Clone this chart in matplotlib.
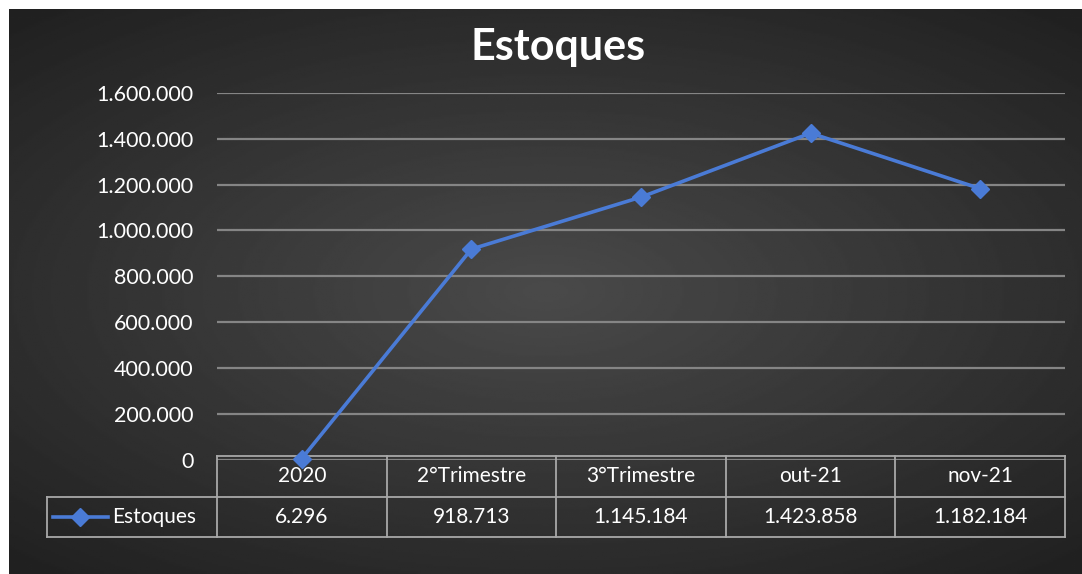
import matplotlib.pyplot as plt
import matplotlib.transforms as mtransforms
import numpy as np

categorias = ['2020', '2°Trimestre', '3°Trimestre', 'out-21', 'nov-21']
estoques = [6296, 918713, 1145184, 1423858, 1182184]
yticks = [0, 200000, 400000, 600000, 800000, 1000000, 1200000, 1400000, 1600000]

W, H = 1082, 574
plt.rcParams['font.family'] = ['Lato', 'DejaVu Sans']


def br(v):
    return f'{v:,.0f}'.replace(',', '.')


fig = plt.figure(figsize=(W / 100, H / 100), dpi=100, facecolor='white')

# fundo escuro com gradiente radial
bg = fig.add_axes([9 / W, 0, (W - 9) / W, (H - 9) / H])
yy, xx = np.mgrid[-1:1:300j, -1:1:500j]
r = np.sqrt((xx * 0.9) ** 2 + (yy * 1.0) ** 2)
bg.imshow(0.29 - 0.16 * np.clip(r, 0, 1.3) / 1.3, cmap='gray', vmin=0, vmax=1,
          aspect='auto', extent=[0, 1, 0, 1])
bg.axis('off')

x0, x1 = 217, 1065
ytop, y0 = 92.7, 460
ph = y0 - ytop
ax = fig.add_axes([x0 / W, (H - y0) / H, (x1 - x0) / W, ph / H])
ax.set_facecolor('none')
x = np.arange(len(categorias))
ax.set_xlim(-0.5, len(categorias) - 0.5)
ax.set_ylim(0, 1600000)
ax.set_yticks(yticks)
ax.set_yticklabels([br(v) for v in yticks], color='white', fontsize=15.5)
ax.tick_params(axis='y', length=0, pad=17)
ax.set_xticks([])
for s in ax.spines.values():
    s.set_visible(False)
ax.grid(axis='y', color='#858585', linewidth=1.6)
ax.set_axisbelow(True)

cor = '#4A7BD6'
ax.plot(x, estoques, color=cor, linewidth=2.6, marker='D', markersize=9,
        clip_on=False, zorder=5)

fig.text(558 / W, 1 - 47 / H, 'Estoques', color='white', fontsize=31,
         fontweight='bold', ha='center', va='center')

# tabela de dados (linhas em pixels da figura convertidas para fração do eixo)
r1a = (y0 - 456) / ph
r1b = (y0 - 497) / ph
r2b = (y0 - 537) / ph
tr = mtransforms.blended_transform_factory(ax.transData, ax.transAxes)
lc = '#a8a8a8'
lw = 1.3
xl, xr = -0.5, len(categorias) - 0.5
kw = dict(transform=tr, color=lc, linewidth=lw, clip_on=False)
for yl in (r1a, r1b, r2b):
    ax.plot([xl, xr], [yl, yl], **kw)
for i in range(len(categorias) + 1):
    ax.plot([i - 0.5, i - 0.5], [r1a, r2b], **kw)
for i, c in enumerate(categorias):
    ax.text(i, (r1a + r1b) / 2, c, transform=tr, ha='center', va='center',
            color='white', fontsize=15)
for i, v in enumerate(estoques):
    ax.text(i, (r1b + r2b) / 2, br(v), transform=tr, ha='center',
            va='center', color='white', fontsize=15)

# célula da legenda
fa = mtransforms.blended_transform_factory(fig.transFigure, ax.transAxes)
lx0 = 47 / W
kf = dict(transform=fa, color=lc, linewidth=lw, clip_on=False)
ax.plot([lx0, x0 / W], [r1b, r1b], **kf)
ax.plot([lx0, x0 / W], [r2b, r2b], **kf)
ax.plot([lx0, lx0], [r1b, r2b], **kf)
ym = (r1b + r2b) / 2
ax.plot([53 / W, 108 / W], [ym, ym], transform=fa, color=cor, linewidth=2.6, clip_on=False)
ax.plot([80 / W], [ym], transform=fa, color=cor, marker='D', markersize=9, clip_on=False)
ax.text(112 / W, ym, 'Estoques', transform=fa, ha='left', va='center',
        color='white', fontsize=15)

fig.savefig('out.png', dpi=100, facecolor='white')
